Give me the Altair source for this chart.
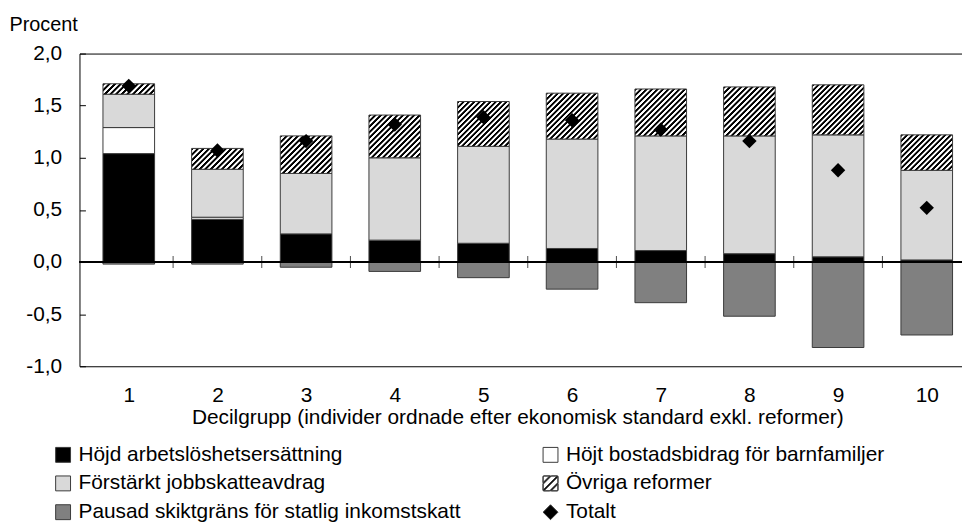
import altair as alt
import pandas as pd

# ---------------- data ----------------
deciles = [1, 2, 3, 4, 5, 6, 7, 8, 9, 10]
hojd_arbetsloshet = [1.04, 0.41, 0.27, 0.21, 0.18, 0.13, 0.11, 0.08, 0.05, 0.02]
hojt_bostadsbidrag = [0.25, 0.02, 0.0, 0.0, 0.0, 0.0, 0.0, 0.0, 0.0, 0.0]
forstarkt_jobbskatt = [0.32, 0.46, 0.58, 0.79, 0.93, 1.05, 1.10, 1.13, 1.17, 0.86]
ovriga_reformer = [0.10, 0.20, 0.36, 0.41, 0.43, 0.44, 0.45, 0.47, 0.48, 0.34]
pausad_skiktgrans = [-0.02, -0.02, -0.05, -0.09, -0.15, -0.26, -0.39, -0.52, -0.82, -0.70]
totalt = [1.69, 1.07, 1.16, 1.32, 1.39, 1.36, 1.27, 1.16, 0.88, 0.52]

S_HOJD = "Höjd arbetslöshetsersättning"
S_BOST = "Höjt bostadsbidrag för barnfamiljer"
S_JOBB = "Förstärkt jobbskatteavdrag"
S_OVR = "Övriga reformer"
S_PAUS = "Pausad skiktgräns för statlig inkomstskatt"
S_TOT = "Totalt"

# legend is filled column by column
legend_order = [S_HOJD, S_JOBB, S_PAUS, S_BOST, S_OVR, S_TOT]
stack_series = [(S_HOJD, hojd_arbetsloshet), (S_BOST, hojt_bostadsbidrag),
                (S_JOBB, forstarkt_jobbskatt), (S_OVR, ovriga_reformer),
                (S_PAUS, pausad_skiktgrans)]
y_ticks = [-1.0, -0.5, 0.0, 0.5, 1.0, 1.5, 2.0]

# ---------------- styling / layout ----------------
FONT = "Liberation Sans"
FS = 21
PLOT_W = 889
PLOT_H = 315
Y_MIN, Y_MAX = -1.0, 2.0
PX_PER_X = 90.33
X_MIN = 0.5
X_MAX = X_MIN + PLOT_W / PX_PER_X
BAR_W = 52
STROKE = "#3a3a3a"
color_of = {S_HOJD: "#000000", S_BOST: "#ffffff", S_JOBB: "#d9d9d9",
            S_OVR: "#000000", S_PAUS: "#808080", S_TOT: "#000000"}
fill_colors = [color_of[s] for s in legend_order]

# build table
rows = []
for order, (name, vals) in enumerate(stack_series):
    for d, v in zip(deciles, vals):
        if v != 0:
            rows.append({"decile": d, "series": name, "value": v, "order": order})
bars_df = pd.DataFrame(rows)
tot_df = pd.DataFrame({"decile": deciles, "total": totalt, "series": S_TOT})
bound_df = pd.DataFrame({"b": [d + 0.5 for d in deciles[:-1]]})


# ---------------- hatch gradient for bars ----------------
def hatch_gradient(h_px, w=BAR_W, period=5.5):
    h = max(h_px, 1.0)
    c = (w + h) / (w * w + h * h)
    n = max(2, round((w + h) / period))
    stops = []
    for k in range(n):
        stops += [
            {"offset": round(k / n, 5), "color": "#000000"},
            {"offset": round((k + 0.35) / n, 5), "color": "#000000"},
            {"offset": round((k + 0.5) / n, 5), "color": "#ffffff"},
            {"offset": round((k + 0.85) / n, 5), "color": "#ffffff"},
        ]
    stops.append({"offset": 1, "color": "#000000"})
    return {"gradient": "linear", "x1": 0, "y1": 0,
            "x2": round(w * c, 5), "y2": round(h * c, 5), "stops": stops}


px_per_unit = PLOT_H / (Y_MAX - Y_MIN)
hatch_fill = {
    "condition": [
        {"test": f"datum.decile == {d}", "value": hatch_gradient(v * px_per_unit)}
        for d, v in zip(deciles, ovriga_reformer)
    ],
    "value": hatch_gradient(40),
}


# ---------------- hatched legend symbol (custom path) ----------------
def clip_half(poly, f):
    out = []
    n = len(poly)
    for i in range(n):
        P, Q = poly[i], poly[(i + 1) % n]
        fp, fq = f(P), f(Q)
        if fp >= 0:
            out.append(P)
        if (fp >= 0) != (fq >= 0):
            t = fp / (fp - fq)
            out.append((P[0] + t * (Q[0] - P[0]), P[1] + t * (Q[1] - P[1])))
    return out


square = [(-1, -1), (1, -1), (1, 1), (-1, 1)]
path = "M-1,-1L1,-1L1,1L-1,1Z"
for a, b in [(-1.88, -1.12), (-0.88, -0.12), (0.12, 0.88), (1.12, 1.88)]:
    p = clip_half(square, lambda q, a=a: q[0] + q[1] - a)
    p = clip_half(p, lambda q, b=b: b - q[0] - q[1])
    p = p[::-1]
    path += "M" + "L".join(f"{x:.3f},{y:.3f}" for x, y in p) + "Z"

shape_of = {S_HOJD: "square", S_BOST: "square", S_JOBB: "square",
            S_OVR: path, S_PAUS: "square", S_TOT: "diamond"}
shape_range = [shape_of[s] for s in legend_order]

# ---------------- scales / axes ----------------
xscale = alt.Scale(domain=[X_MIN, X_MAX], nice=False, zero=False)
yscale = alt.Scale(domain=[Y_MIN, Y_MAX], nice=False, zero=False)
fill_scale = alt.Scale(domain=legend_order, range=fill_colors)
shape_scale = alt.Scale(domain=legend_order, range=shape_range)
stroke_scale = alt.Scale(domain=legend_order, range=[STROKE] * len(legend_order))

x_bottom = alt.Axis(
    orient="bottom", values=deciles, format="d", ticks=False, tickSize=0,
    labelPadding=18, labelFontSize=FS, labelColor="black", labelFlush=False,
    domainColor="black", domainWidth=1, grid=False,
    title="Decilgrupp (individer ordnade efter ekonomisk standard exkl. reformer)",
    titleFontSize=FS, titleFontWeight="normal", titleColor="black",
    titleBaseline="top", titleY=41, titleX=441,
)
y_left = alt.Axis(
    orient="left", values=y_ticks, ticks=False, tickSize=0, labelPadding=18,
    labelExpr="(datum.value < 0 ? '-' : '') + replace(format(abs(datum.value), '.1f'), '.', ',')",
    labelFontSize=FS, labelColor="black", labelFlush=False,
    domainColor="black", domainWidth=1, grid=False,
    title="Procent", titleAngle=0, titleAlign="left", titleBaseline="alphabetic",
    titleX=-71, titleY=-23.7, titleFontSize=20, titleFontWeight="normal", titleColor="black",
)
x_top = alt.Axis(orient="top", labels=False, ticks=False, title=None,
                 domainColor="black", domainWidth=1, grid=False)
y_right = alt.Axis(orient="right", offset=-PLOT_W, values=y_ticks, labels=False,
                   domain=False, ticks=True, tickSize=6, tickColor="black",
                   tickWidth=1, grid=False, title=None)

legend = alt.Legend(
    title=None, orient="none", legendX=-27, legendY=393.5, columns=2,
    columnPadding=79, rowPadding=7, labelFontSize=FS, labelColor="black",
    labelLimit=700, labelOffset=5, symbolSize=225, symbolStrokeColor=STROKE,
    symbolStrokeWidth=1, symbolOpacity=1, padding=0,
)

base = alt.Chart(bars_df).transform_stack(
    stack="value", groupby=["decile"], as_=["y0", "y1"],
    sort=[alt.SortField(field="order", order="ascending")], offset="zero",
)

solid = base.transform_filter(alt.datum.series != S_OVR).mark_bar(
    size=BAR_W, strokeWidth=1
).encode(
    x=alt.X("decile:Q", scale=xscale, axis=x_bottom),
    y=alt.Y("y0:Q", scale=yscale, axis=y_left),
    y2="y1:Q",
    fill=alt.Fill("series:N", scale=fill_scale, legend=legend),
    stroke=alt.Stroke("series:N", scale=stroke_scale, legend=legend),
)

hatched = base.transform_filter(alt.datum.series == S_OVR).mark_bar(
    size=BAR_W, stroke=STROKE, strokeWidth=1
).encode(
    x=alt.X("decile:Q", scale=xscale, axis=x_top),
    y=alt.Y("y0:Q", scale=yscale, axis=y_right),
    y2="y1:Q",
    fill=hatch_fill,
)

zero_line = alt.Chart(tot_df).mark_rule(color="black", strokeWidth=1).encode(
    y=alt.YDatum(0, scale=yscale, axis=None),
)

ticks = alt.Chart(bound_df).mark_tick(
    orient="vertical", size=12, thickness=1, color="black"
).encode(
    x=alt.X("b:Q", scale=xscale, axis=None),
    y=alt.YDatum(0, scale=yscale, axis=None),
)

points = alt.Chart(tot_df).mark_point(filled=True, size=210, opacity=1, strokeWidth=0).encode(
    x=alt.X("decile:Q", scale=xscale, axis=None),
    y=alt.Y("total:Q", scale=yscale, axis=None),
    fill=alt.Fill("series:N", scale=fill_scale, legend=legend),
    shape=alt.Shape("series:N", scale=shape_scale, legend=legend),
)

chart = alt.layer(solid, hatched, zero_line, ticks, points).resolve_axis(
    x="independent", y="independent"
).properties(
    width=PLOT_W, height=PLOT_H,
    autosize=alt.AutoSizeParams(type="none"),
    padding={"left": 72, "top": 44, "right": 0, "bottom": 157},
).configure(font=FONT).configure_view(stroke=None)

chart.save("out.html", embed_options={"renderer": "svg", "actions": False})
